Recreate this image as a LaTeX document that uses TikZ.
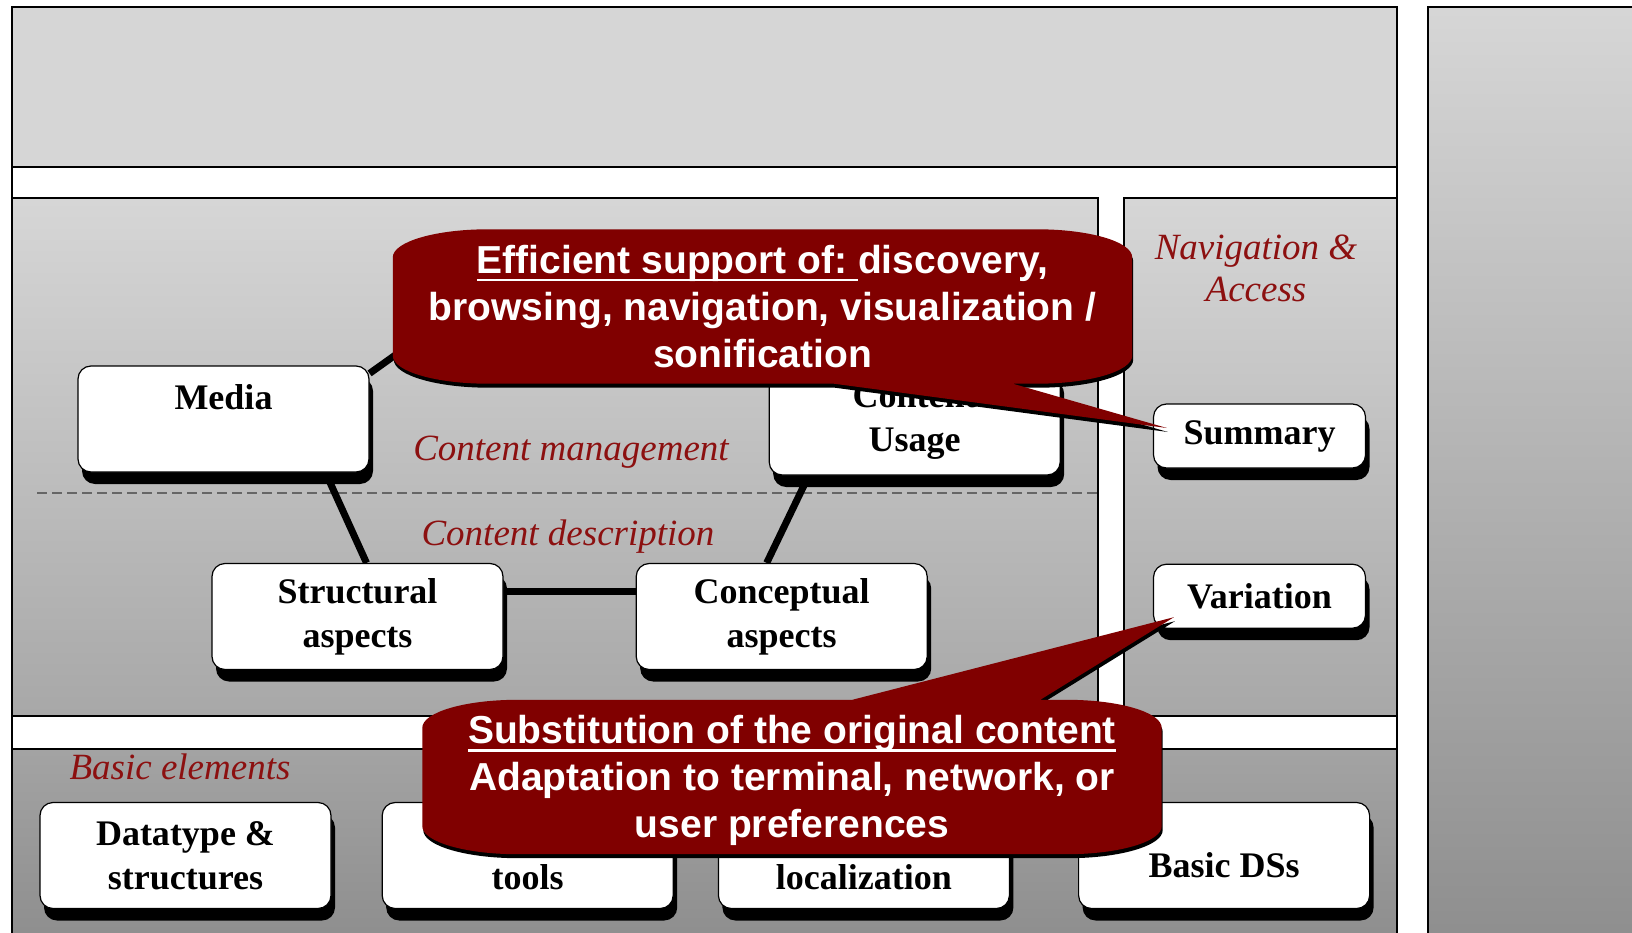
\documentclass[tikz,border=0pt]{standalone}
\usepackage{xcolor}
\usepackage{fontspec}
\setmainfont{Liberation Serif}
\newfontfamily\callfont{Liberation Sans}
\usepackage{tikz}
\usetikzlibrary{positioning, shadows}
\pgfdeclarelayer{back}
\pgfdeclarelayer{front}
\pgfsetlayers{back,main,front}

\definecolor{callred}{RGB}{128,0,0}
\definecolor{labred}{RGB}{140,16,16}
\definecolor{pnllight}{gray}{0.84}
\definecolor{pnlmid}{gray}{0.64}
\definecolor{pnldark}{gray}{0.56}

\newcommand{\callunder}[1]{\setbox0\hbox{#1}\rlap{\rule[-8pt]{\wd0}{2.5pt}}\box0}

\tikzset{
  panel/.style={draw=black, line width=2pt},
  box/.style={draw, line width=1.2pt, rounded corners=13pt, fill=white, align=center,
    minimum width=291pt, minimum height=106pt, inner sep=0pt,
    font=\fontsize{36}{44}\selectfont\bfseries,
    drop shadow={shadow xshift=4pt, shadow yshift=-12pt, fill=black, opacity=1}},
  smallbox/.style={box, minimum width=212pt, minimum height=64pt},
  lab/.style={text=labred, align=center, font=\fontsize{37}{42}\selectfont\itshape},
  link/.style={line width=7pt},
  calltext/.style={text=white, align=center, inner sep=0pt, minimum width=739pt,
    minimum height=154pt, font=\callfont\fontsize{39}{47}\selectfont\bfseries},
  callbody/.style={fill=callred, preaction={fill=black, transform canvas={xshift=1pt, yshift=-4pt}}}
}

\begin{document}
\begin{tikzpicture}[x=1pt, y=-1pt, node distance=44pt]
\useasboundingbox (0,0) rectangle (1632,933);

\begin{pgfonlayer}{back}
  \fill[white] (0,0) rectangle (1632,933);
  % panels
  \draw[panel, fill=pnllight] (12,7) rectangle (1397,167);
  \draw[panel, top color=pnllight, bottom color=pnlmid!95!white] (12,198) rectangle (1098,716);
  \draw[panel, top color=pnllight, bottom color=pnlmid!95!white] (1124,198) rectangle (1397,716);
  \fill[top color=pnlmid, bottom color=pnldark] (12,749) rectangle (1397,933);
  \draw[panel] (12,749) -- (1397,749);
  \fill[top color=pnllight, bottom color=pnldark] (1428,7) rectangle (1632,933);
  \draw[panel] (1428,933) -- (1428,7) -- (1632,7);
  \draw[panel] (12,933) -- (12,7) -- (1397,7) -- (1397,933);
  \draw[gray!80!black, line width=2pt, dash pattern=on 10pt off 5pt] (37,493) -- (1098,493);
\end{pgfonlayer}

% content description
\node[box] (media) at (223.5,419) {Media\\\vphantom{D}};
\node[box, right=399pt of media, yshift=-3pt] (usage) {Content\\Usage};
\node[box] (struct) at (357.5,616.5) {Structural\\aspects};
\node[box, right=132pt of struct] (concept) {Conceptual\\aspects};

\node[lab] (mgmt) at (571,452) {Content management};
\node[lab] (descr) at (568,537) {Content description};

% navigation
\node[lab] (nav) at (1256,268) {Navigation \&\\Access};
\node[smallbox] (summ) at (1259.5,436) {Summary};
\node[smallbox, below=95pt of summ] (vari) {Variation};

% basic elements
\node[lab] (basiclab) at (180,767) {Basic elements};
\node[box] (dtype) at (185.5,855.5) {Datatype \&\\structures};
\node[box, right=50pt of dtype] (tools) {\vphantom{D}\\tools};
\node[box, right=44pt of tools] (loc) {\vphantom{D}\\localization};
\node[box, right=68pt of loc, text height=44pt] (dss) {Basic DSs};

\coordinate (hub) at (471,301);
\begin{pgfonlayer}{back}
  \draw[link] ([yshift=-8pt]media.north east) -- (hub);
  \draw[link] ([xshift=102pt]media.south) -- ([xshift=9pt]struct.north);
  \draw[link] ([xshift=-106pt]usage.south) -- ([xshift=-15pt]concept.north);
  \draw[link] ([yshift=25pt]struct.east) -- ([yshift=25pt]concept.west);
\end{pgfonlayer}

% callouts
\begin{pgfonlayer}{front}
  \node[calltext] (effic) at (762.5,306.5) {\callunder{Efficient support of:\ }discovery,\\browsing, navigation, visualization /\\sonification};
  \node[calltext] (adapt) at (792,777) {\rule{0pt}{36pt}\callunder{Substitution of the original content}\\Adaptation to terminal, network, or\\user preferences};
\end{pgfonlayer}

\fill[callbody] ([yshift=-28pt]effic.north west)
  arc[start angle=180, end angle=270, x radius=95, y radius=28]
  -- ([xshift=-95pt]effic.north east)
  arc[start angle=270, end angle=360, x radius=95, y radius=28]
  -- ([yshift=28pt]effic.south east)
  arc[start angle=0, end angle=90, x radius=95, y radius=28]
  -- ([xshift=620pt]effic.south west) -- ([xshift=14pt, yshift=8pt]summ.west)
  -- ([xshift=441pt]effic.south west) -- ([xshift=95pt]effic.south west)
  arc[start angle=90, end angle=180, x radius=95, y radius=28]
  -- cycle;

\fill[callbody] ([yshift=-28pt]adapt.north west)
  arc[start angle=180, end angle=270, x radius=95, y radius=28]
  -- ([xshift=430pt]adapt.north west) -- ([xshift=21pt, yshift=-21pt]vari.west)
  -- ([xshift=618pt]adapt.north west) -- ([xshift=-95pt]adapt.north east)
  arc[start angle=270, end angle=360, x radius=95, y radius=28]
  -- ([yshift=28pt]adapt.south east)
  arc[start angle=0, end angle=90, x radius=95, y radius=28]
  -- ([xshift=95pt]adapt.south west)
  arc[start angle=90, end angle=180, x radius=95, y radius=28]
  -- cycle;
\end{tikzpicture}
\end{document}
